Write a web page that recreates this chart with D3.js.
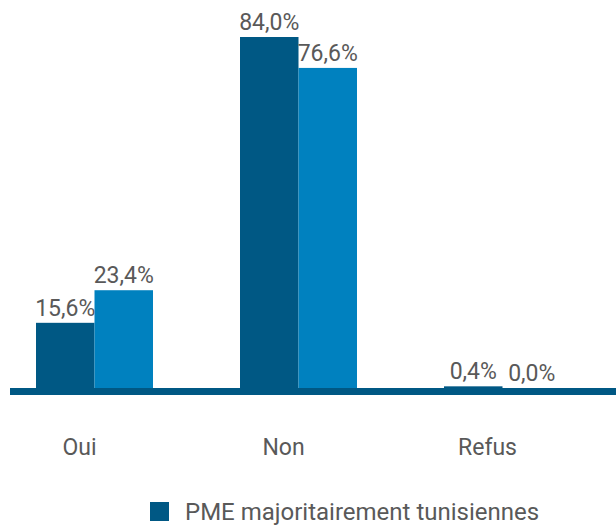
<!DOCTYPE html>
<html>
<head>
<meta charset="utf-8">
<script src="https://cdn.jsdelivr.net/npm/d3@7"></script>
<style>
  html, body { margin: 0; padding: 0; background: #fff; }
  svg { display: block; }
  text { font-family: Roboto, "Noto Sans", sans-serif; fill: #595959; }
</style>
</head>
<body>
<svg id="chart" width="616" height="526"></svg>
<script>
// Réponses par catégorie
const categories = ["Oui", "Non", "Refus"];
const seriesNames = ["PME majoritairement tunisiennes", "Autres PME"];
const seriesA = [15.6, 84.0, 0.4];
const seriesB = [23.4, 76.6, 0.0];
const legendNames = ["PME majoritairement tunisiennes"];

const colors = ["#005884", "#0081BF"];

const svg = d3.select("#chart");
const W = 616;
const baseY = 388;

const locale = d3.formatLocale({ decimal: ",", thousands: " ", grouping: [3], currency: ["", "€"] });
const fmt = v => locale.format(".1f")(v) + "%";

const rows = categories.map((c, i) => ({ cat: c, values: [seriesA[i], seriesB[i]] }));

const x0 = d3.scaleBand()
  .domain(categories)
  .range([-7.5, 604.5])
  .paddingInner(0.4265)
  .paddingOuter(0.21325);

const x1 = d3.scaleBand()
  .domain([0, 1])
  .range([0, x0.bandwidth()]);

const y = d3.scaleLinear()
  .domain([0, 84])
  .range([baseY, 37]);

// Barres
const groups = svg.append("g").selectAll("g")
  .data(rows)
  .join("g")
  .attr("transform", d => `translate(${x0(d.cat)},0)`);

groups.selectAll("rect")
  .data(d => d.values.map((v, k) => ({ v, k })))
  .join("rect")
  .attr("x", d => x1(d.k))
  .attr("width", x1.bandwidth())
  .attr("y", d => y(d.v))
  .attr("height", d => baseY - y(d.v))
  .attr("fill", d => colors[d.k]);

// Étiquettes de valeur
groups.selectAll("text")
  .data(d => d.values.map((v, k) => ({ v, k })))
  .join("text")
  .attr("x", d => x1(d.k) + x1.bandwidth() / 2)
  .attr("y", d => y(d.v) - 7)
  .attr("text-anchor", "middle")
  .style("font-size", "23px")
  .text(d => fmt(d.v));

// Axe horizontal
const axis = svg.append("g")
  .attr("transform", `translate(0,${baseY})`)
  .call(d3.axisBottom(x0).tickSize(0).tickPadding(0));
axis.select(".domain").remove();
axis.append("rect")
  .attr("x", 10)
  .attr("y", 0)
  .attr("width", W - 10)
  .attr("height", 7)
  .attr("fill", colors[0]);
axis.selectAll(".tick text")
  .attr("dx", -15)
  .attr("dy", 0)
  .attr("y", 67)
  .style("font-size", "23px")
  .style("font-family", "Roboto, 'Noto Sans', sans-serif")
  .attr("fill", "#595959");

// Légende
const legend = svg.append("g").attr("transform", "translate(150,502)");
legend.selectAll("rect")
  .data(legendNames)
  .join("rect")
  .attr("width", 19)
  .attr("height", 19)
  .attr("fill", (d, i) => colors[i]);
legend.selectAll("text")
  .data(legendNames)
  .join("text")
  .attr("x", 35)
  .attr("y", 18)
  .style("font-size", "24px")
  .text(d => d);
</script>
</body>
</html>
